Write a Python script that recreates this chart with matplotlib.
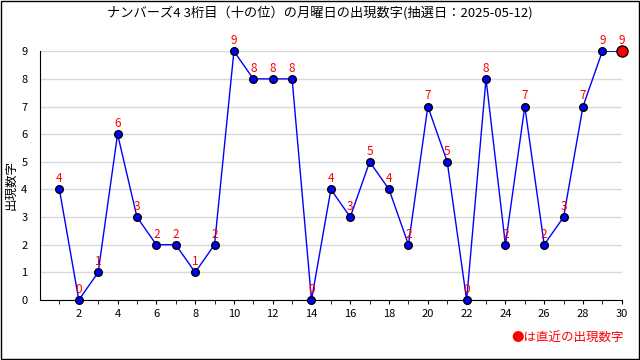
import matplotlib
matplotlib.use("Agg")
import matplotlib.pyplot as plt
from matplotlib.patches import Rectangle

plt.rcParams['font.family'] = ['Noto Sans CJK JP', 'DejaVu Sans']

#Data: draw number (x) and digit that appeared (y)
draws = list(range(1, 31))
digits = [4, 0, 1, 6, 3, 2, 2, 1, 2, 9, 8, 8, 8, 0, 4, 3, 5, 4, 2, 7, 5, 0, 8, 2, 7, 2, 3, 7, 9, 9]
title = "ナンバーズ4 3桁目（十の位）の月曜日の出現数字(抽選日：2025-05-12)"

#Create figure
fig = plt.figure(figsize=(6.4, 3.6), dpi=100)
ax = fig.add_axes([0.0625, 0.1667, 0.909, 0.691])

#Line and points
ax.plot(draws, digits, color="blue", linewidth=1, zorder=2)
ax.plot(draws[:-1], digits[:-1], "o", color="blue", markeredgecolor="black",
        markersize=5.5, zorder=3, clip_on=False)
ax.plot(draws[-1], digits[-1], "o", color="red", markeredgecolor="black",
        markersize=8, zorder=4, clip_on=False)

#Value labels above each point
for x, y in zip(draws, digits):
    ax.annotate(str(y), (x, y), xytext=(0, 3), textcoords="offset points",
                ha="center", va="bottom", color="red", fontsize=8.5, zorder=5)

#Axes settings
ax.set_xlim(0, 30)
ax.set_ylim(0, 9)
ax.set_xticks(range(2, 31, 2))
ax.set_xticks(range(1, 31), minor=True)
ax.set_yticks(range(0, 10))
ax.tick_params(axis="x", which="both", direction="out", length=3, labelsize=8)
ax.tick_params(axis="y", length=0, labelsize=8, pad=9)
ax.grid(axis="y", color="#d9d9d9", linewidth=1, zorder=0)
ax.spines["top"].set_visible(False)
ax.spines["right"].set_visible(False)

fig.text(0.5, 0.965, title, ha="center", va="center", fontsize=9.5)
fig.text(0.017, 0.486, "出現数字", ha="center", va="center", rotation=90, fontsize=9)
fig.text(0.975, 0.063, "●は直近の出現数字", ha="right", va="center", color="red", fontsize=9)

#Black frame round the figure
fig.patches.append(Rectangle((0.001, 0.002), 0.997, 0.995, transform=fig.transFigure,
                             fill=False, edgecolor="black", linewidth=1))

fig.savefig("out.png", dpi=100)
